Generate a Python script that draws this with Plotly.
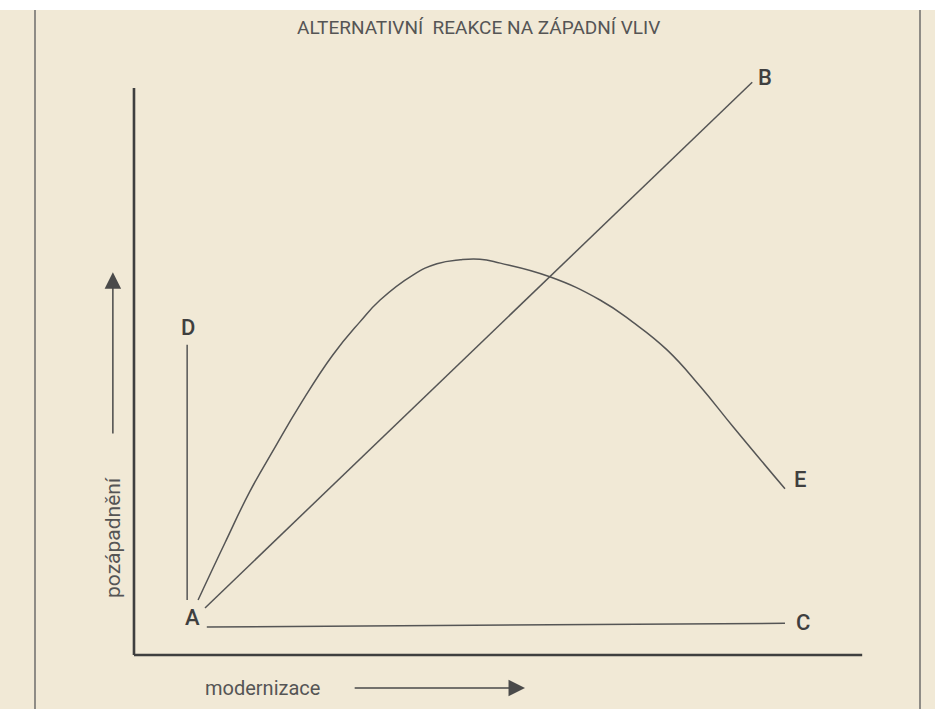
import plotly.graph_objects as go

# ---- data (abstract units: modernization 0-100, westernization 0-100) ----
title_text = "ALTERNATIVNÍ  REAKCE NA ZÁPADNÍ VLIV"
x_label = "modernizace"
y_label = "pozápadnění"

# Path A -> D (westernization without modernization)
d_x = [7.3, 7.3]
d_y = [9.7, 54.7]

# Path A -> B (modernization with westernization)
b_x = [9.75, 84.9]
b_y = [8.3, 101.0]

# Path A -> C (modernization without westernization)
c_x = [10.0, 89.4]
c_y = [4.95, 5.6]

# Path A -> E (reformist curve)
e_x = [8.8, 12.5, 15.9, 19.4, 22.8, 27.3, 31.0, 33.8, 38.3, 41.6, 44.8, 47.5,
       50.3, 57.1, 64.0, 68.5, 73.2, 77.8, 82.3, 89.4]
e_y = [9.7, 19.8, 28.8, 36.7, 44.1, 52.9, 58.7, 62.6, 67.0, 69.0, 69.7, 69.8,
       69.1, 66.7, 62.6, 58.7, 53.8, 47.3, 40.2, 29.3]

point_labels = ["A", "D", "B", "C", "E"]
point_lx = [8.1, 7.4, 86.7, 91.9, 91.4]
point_ly = [6.7, 57.8, 101.8, 5.8, 30.9]

# ---- styling ----
BG = "#f1e9d6"
INK = "#555555"
TXT = "#3f3f3f"
FONT = "Roboto, sans-serif"

XR = [-18.4, 110.0]
YR = [-9.52, 115.5]

fig = go.Figure()

for xs, ys, shape in [(d_x, d_y, "linear"), (b_x, b_y, "linear"),
                      (c_x, c_y, "linear"), (e_x, e_y, "spline")]:
    fig.add_trace(go.Scatter(x=xs, y=ys, mode="lines",
                             line=dict(color=INK, width=1.5, shape=shape, smoothing=1.3),
                             hoverinfo="skip", showlegend=False, cliponaxis=False))

# axes frame (L shape)
fig.add_shape(type="line", x0=0, y0=0, x1=0, y1=100, line=dict(color="#3f3f3f", width=2.6))
fig.add_shape(type="line", x0=0, y0=0, x1=100, y1=0, line=dict(color="#3f3f3f", width=2.6))

# page borders of the scan
fig.add_shape(type="line", xref="paper", yref="paper", x0=35/935, x1=35/935, y0=0, y1=1 - 10/709,
              line=dict(color="#5a5a5a", width=1.3))
fig.add_shape(type="line", xref="paper", yref="paper", x0=920/935, x1=920/935, y0=0, y1=1 - 10/709,
              line=dict(color="#5a5a5a", width=1.3))
fig.add_shape(type="rect", xref="paper", yref="paper", x0=0, x1=1, y0=1 - 10/709, y1=1,
              line=dict(width=0), fillcolor="white")

# point labels
for t, lx, ly in zip(point_labels, point_lx, point_ly):
    fig.add_annotation(x=lx, y=ly, text=t, showarrow=False,
                       font=dict(family=FONT, size=22, color=TXT, weight=500))

# title
fig.add_annotation(x=47.3, y=110.6, text=title_text, showarrow=False,
                   font=dict(family=FONT, size=19, color="#555555"))

# axis labels
fig.add_annotation(x=-2.9, y=20.8, text=y_label, textangle=-90, showarrow=False,
                   font=dict(family=FONT, size=21, color="#555555"))
fig.add_annotation(x=17.6, y=-5.8, text=x_label, showarrow=False,
                   font=dict(family=FONT, size=20, color="#555555"))

# direction arrows
fig.add_annotation(x=-2.9, y=67.5, ax=-2.9, ay=38.8, axref="x", ayref="y",
                   text="", showarrow=True, arrowhead=2, arrowsize=2.2,
                   arrowwidth=1.5, arrowcolor="#4a4a4a")
fig.add_annotation(x=53.7, y=-5.8, ax=30.1, ay=-5.8, axref="x", ayref="y",
                   text="", showarrow=True, arrowhead=2, arrowsize=2.2,
                   arrowwidth=1.5, arrowcolor="#4a4a4a")

fig.update_xaxes(range=XR, visible=False, fixedrange=True)
fig.update_yaxes(range=YR, visible=False, fixedrange=True)
fig.update_layout(width=935, height=709, margin=dict(l=0, r=0, t=0, b=0),
                  paper_bgcolor=BG, plot_bgcolor=BG, showlegend=False)

fig.write_html("out.html", config={"displayModeBar": False},
               post_script="document.body.style.margin='0px';")
